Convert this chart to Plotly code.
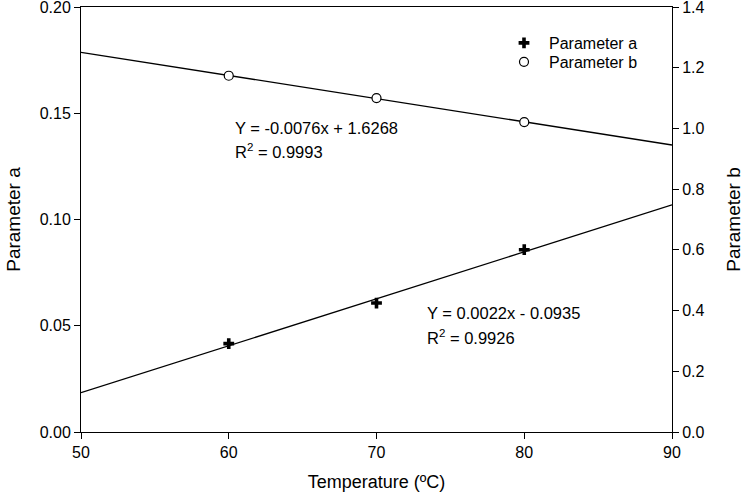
import numpy as np
import plotly.graph_objects as go

# Data
temperature = [60, 70, 80]
param_a = [0.0416, 0.0607, 0.0858]
param_b = [1.1737, 1.100, 1.021]
x_range = [50, 90]
eq_a = "Y = 0.0022x - 0.0935"
r2_a = "R<sup>2</sup> = 0.9926"
eq_b = "Y = -0.0076x + 1.6268"
r2_b = "R<sup>2</sup> = 0.9993"
left_ticks = [0.00, 0.05, 0.10, 0.15, 0.20]
right_ticks = [0.0, 0.2, 0.4, 0.6, 0.8, 1.0, 1.2, 1.4]
x_ticks = [50, 60, 70, 80, 90]

FONT = "Liberation Sans, Arial, sans-serif"

# linear fits
ka, ba = np.polyfit(temperature, param_a, 1)
kb, bb = np.polyfit(temperature, param_b, 1)
xf = np.array(x_range, dtype=float)

fig = go.Figure()
fig.add_trace(go.Scatter(x=xf, y=ka * xf + ba, mode="lines",
                         line=dict(color="black", width=1.3), showlegend=False, yaxis="y"))
fig.add_trace(go.Scatter(x=xf, y=kb * xf + bb, mode="lines",
                         line=dict(color="black", width=1.3), showlegend=False, yaxis="y2"))
fig.add_trace(go.Scatter(x=temperature, y=param_a, mode="markers", name="Parameter a",
                         legend="legend",
                         marker=dict(symbol="cross", size=9, color="black",
                                     line=dict(width=0)), yaxis="y"))
fig.add_trace(go.Scatter(x=temperature, y=param_b, mode="markers", name="Parameter b",
                         legend="legend2",
                         marker=dict(symbol="circle", size=9, color="white",
                                     line=dict(color="black", width=1.2)), yaxis="y2"))

axis_common = dict(showline=True, linecolor="black", linewidth=1, ticks="outside",
                   ticklen=6, tickcolor="black", showgrid=False, zeroline=False,
                   ticklabeloverflow="allow", automargin=False,
                   tickfont=dict(family=FONT, size=16, color="black"))

def px_x(p):
    return (p - 81) / 591
def px_y(p):
    return (432.3 - p) / 425.3

leg_common = dict(xanchor="left", yanchor="middle", bgcolor="rgba(0,0,0,0)",
                  font=dict(size=16), itemwidth=40, borderwidth=0)

fig.update_layout(
    width=744, height=503,
    margin=dict(l=81, r=72, t=7, b=71, autoexpand=False),
    paper_bgcolor="white", plot_bgcolor="white",
    font=dict(family=FONT, size=16, color="black"),
    xaxis=dict(range=x_range, tickvals=x_ticks, mirror=True,
               title=dict(text="Temperature (ºC)", font=dict(size=18), standoff=15),
               **axis_common),
    yaxis=dict(range=[0, 0.20002], tickvals=left_ticks, tickformat=".2f",
               title=dict(text="Parameter a", font=dict(size=19), standoff=14),
               **axis_common),
    yaxis2=dict(range=[0, 1.40014], tickvals=right_ticks, tickformat=".1f", overlaying="y",
                side="right", anchor="x",
                title=dict(text="Parameter b", font=dict(size=19), standoff=24),
                **axis_common),
    legend=dict(x=px_x(499), y=px_y(43), **leg_common),
    legend2=dict(x=px_x(499), y=px_y(62), **leg_common),
    showlegend=True,
)

ann_font = dict(family=FONT, size=16.5, color="black")
for text, xp, yp in [(eq_b, 233, 128), (r2_b, 233, 151), (eq_a, 425, 313), (r2_a, 425, 337)]:
    fig.add_annotation(text=text, xref="paper", yref="paper", x=px_x(xp), y=px_y(yp),
                       xanchor="left", yanchor="middle", showarrow=False, font=ann_font)

fig.write_html("out.html")
